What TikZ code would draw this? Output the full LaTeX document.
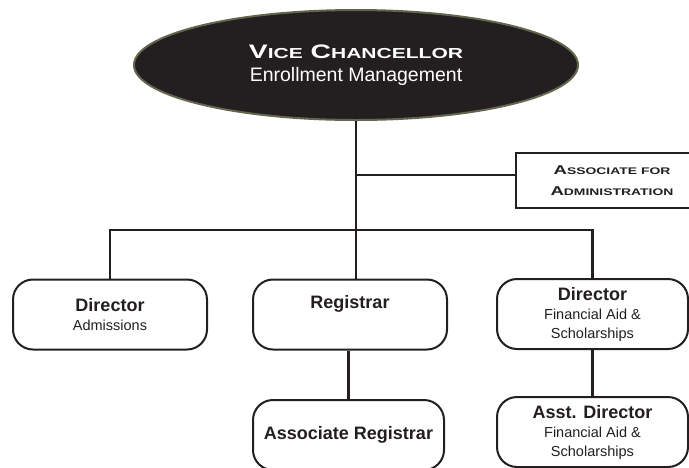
\documentclass[tikz,border=0pt]{standalone}
\usepackage{fontspec}
\setmainfont{Liberation Sans}
\newfontfamily\widefont{Liberation Sans}[FakeStretch=1.45]
\usetikzlibrary{shapes.geometric,positioning}
\definecolor{inkdark}{RGB}{35,31,32}
\definecolor{rimolive}{RGB}{98,102,78}
\newcommand{\lowcaps}[2]{{\fontsize{#1}{#1}\selectfont #2}}
\tikzset{
conn/.style={draw=inkdark,line width=2.2pt},
headoval/.style={ellipse,fill=inkdark,draw=rimolive,line width=2pt,text=white,
  minimum width=444pt,minimum height=110pt,inner sep=0pt,align=center,
  font=\fontsize{19.5}{23}\selectfont},
staffbox/.style={rectangle,draw=inkdark,line width=1.5pt,text=inkdark,
  minimum width=192pt,minimum height=55pt,inner sep=0pt,align=center,
  font=\widefont\bfseries\fontsize{12.8}{21}\selectfont},
unitbox/.style={rectangle,rounded corners=20pt,draw=inkdark,line width=2pt,fill=white,
  text=inkdark,minimum width=#1,minimum height=70pt,inner sep=0pt,align=center,
  font=\fontsize{14.5}{19}\selectfont},
unitbox/.default=194pt,
}
\newcommand{\unittitle}[1]{{\fontsize{18}{21}\selectfont\bfseries #1}}

\begin{document}
\begin{tikzpicture}[x=1pt,y=-1pt]
    \useasboundingbox (0,0) rectangle (689,467);

    % top of the chart
    \node[headoval] (vc) at (356,65)
        {{\widefont\bfseries V\lowcaps{14.5}{ICE} C\lowcaps{14.5}{HANCELLOR}}\\
         Enrollment Management};
    \node[staffbox] (assoc) at (612,180.5)
        {A\lowcaps{9.6}{SSOCIATE FOR}\\A\lowcaps{9.6}{DMINISTRATION}};

    % units
    \node[unitbox] (dirAdm) at (110,314.5)
        {\unittitle{Director}\\Admissions};
    \node[unitbox] (registrar) at (350,314.5)
        {\unittitle{Registrar}\\\strut};
    \node[unitbox=191pt] (dirAid) at (592.5,314)
        {\unittitle{Director}\\Financial Aid \&\\Scholarships};
    \node[unitbox=191pt] (assocReg) at (348.5,435)
        {\unittitle{Associate Registrar}};
    \node[unitbox=191pt] (asstDir) at (592.5,432)
        {\unittitle{Asst. Director}\\Financial Aid \&\\Scholarships};

    % connectors
    \coordinate (staffTap) at (356,175);
    \coordinate (busL) at (110,230);
    \coordinate (busR) at (592.5,230);
    \draw[conn] (vc.south) -- (vc.south |- registrar.north);
    \draw[conn] (staffTap) -- (staffTap -| assoc.west);
    \draw[conn] (busL |- dirAdm.north) -- (busL) -- (busR) -- (busR |- dirAid.north);
    \draw[conn] (assocReg.north) -- (assocReg.north |- registrar.south);
    \draw[conn] (dirAid.south) -- (asstDir.north);
\end{tikzpicture}
\end{document}
